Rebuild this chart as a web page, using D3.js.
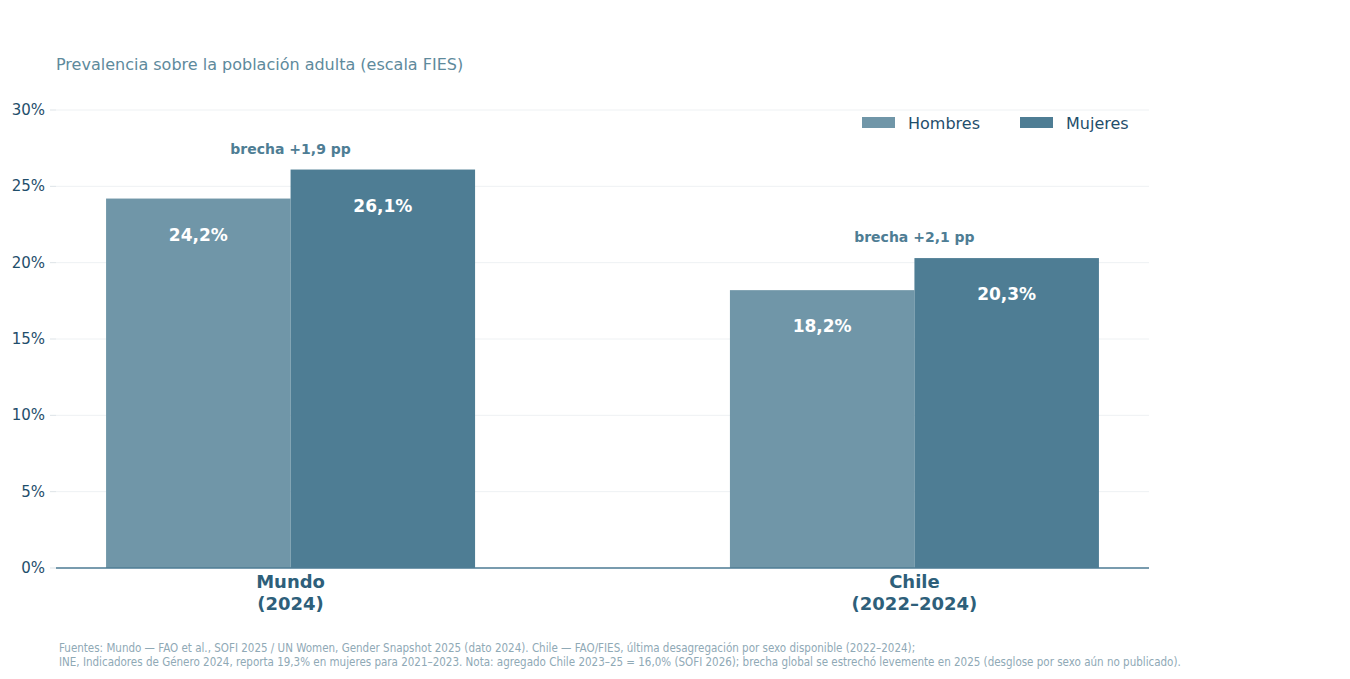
<!DOCTYPE html>
<html><head><meta charset="utf-8">
<script src="https://cdn.jsdelivr.net/npm/d3@7"></script>
<style>body{margin:0;background:#fff}svg{font-family:"DejaVu Sans",sans-serif}</style>
</head><body><div id="div"></div>
<script>
var categories = ['Mundo|(2024)', 'Chile|(2022–2024)'];
var series = ['Hombres', 'Mujeres'];
var hombres = [24.2, 18.2];
var mujeres = [26.1, 20.3];
var gaps = ['brecha +1,9 pp', 'brecha +2,1 pp'];
var yTicks = [0, 5, 10, 15, 20, 25, 30];
var colors = ['#7096a8', '#4e7d94'];

var svg = d3.select('#div').append('svg').attr('width', 1350).attr('height', 679);
var x = d3.scalePoint().domain(categories).range([56, 1149]).padding(0.376);
var y = d3.scaleLinear().domain([0, 30]).range([568, 110]);
var bw = 184.5;

svg.append('text').attr('x', 56).attr('y', 70).attr('fill', '#5e8a9c').attr('font-size', 16)
    .text('Prevalencia sobre la población adulta (escala FIES)');

var ya = svg.append('g');
yTicks.forEach(function (t) {
    ya.append('line').attr('x1', 56).attr('x2', 1149).attr('y1', y(t)).attr('y2', y(t))
        .attr('stroke', '#eef1f3').attr('stroke-width', 1);
    ya.append('line').attr('x1', 50).attr('x2', 56).attr('y1', y(t)).attr('y2', y(t)).attr('stroke', '#dde3e7');
    ya.append('text').attr('x', 45).attr('y', y(t) + 5).attr('text-anchor', 'end')
        .attr('fill', '#1f4e6b').attr('font-size', 15).text(t + '%');
});

var data = [];
categories.forEach(function (c, i) {
    data.push({c: c, s: 0, v: hombres[i]});
    data.push({c: c, s: 1, v: mujeres[i]});
});
var fmt = function (v) { return v.toFixed(1).replace('.', ',') + '%'; };

svg.selectAll('rect.bar').data(data).join('rect')
    .attr('x', d => x(d.c) + (d.s - 1) * bw).attr('width', bw)
    .attr('y', d => y(d.v)).attr('height', d => y(0) - y(d.v))
    .attr('fill', d => colors[d.s]);
svg.selectAll('text.val').data(data).join('text')
    .attr('x', d => x(d.c) + (d.s - 0.5) * bw).attr('y', d => y(d.v) + 42)
    .attr('text-anchor', 'middle').attr('fill', '#fff').attr('font-weight', 'bold').attr('font-size', 17)
    .text(d => fmt(d.v));

categories.forEach(function (c, i) {
    svg.append('text').attr('x', x(c)).attr('y', y(mujeres[i]) - 16).attr('text-anchor', 'middle')
        .attr('fill', '#4e7d94').attr('font-weight', 'bold').attr('font-size', 14).text(gaps[i]);
    var parts = c.split('|');
    parts.forEach(function (p, j) {
        svg.append('text').attr('x', x(c)).attr('y', 588 + j * 22).attr('text-anchor', 'middle')
            .attr('fill', '#2e5f7a').attr('font-weight', 'bold').attr('font-size', 18).text(p);
    });
});

svg.append('line').attr('x1', 56).attr('x2', 1149).attr('y1', y(0)).attr('y2', y(0))
    .attr('stroke', '#4e7d94').attr('stroke-width', 1.5);

var lx = [862, 1020];
series.forEach(function (s, i) {
    svg.append('rect').attr('x', lx[i]).attr('y', 117).attr('width', 33).attr('height', 11).attr('fill', colors[i]);
    svg.append('text').attr('x', lx[i] + 46).attr('y', 129).attr('fill', '#1f4e6b').attr('font-size', 16).text(s);
});

var notes = ['Fuentes: Mundo — FAO et al., SOFI 2025 / UN Women, Gender Snapshot 2025 (dato 2024). Chile — FAO/FIES, última desagregación por sexo disponible (2022–2024);',
    'INE, Indicadores de Género 2024, reporta 19,3% en mujeres para 2021–2023.  Nota: agregado Chile 2023–25 = 16,0% (SOFI 2026); brecha global se estrechó levemente en 2025 (desglose por sexo aún no publicado).'];
notes.forEach(function (n, i) {
    svg.append('text').attr('x', 59).attr('y', 652 + i * 14).attr('fill', '#8fa9b6').attr('font-size', 11.5)
        .attr('font-family', '"DejaVu Sans Condensed","DejaVu Sans",sans-serif').text(n);
});
</script></body></html>
